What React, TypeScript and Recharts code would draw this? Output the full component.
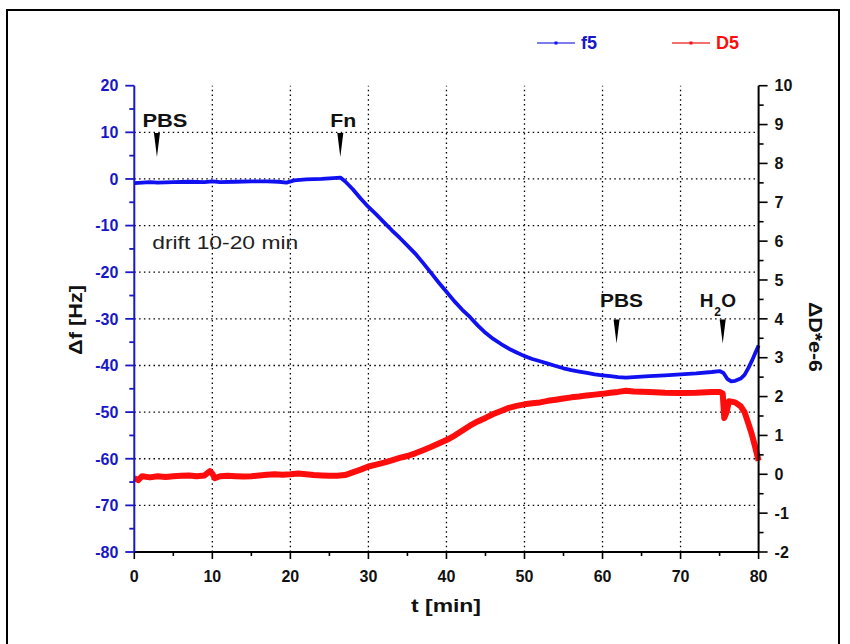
import { LineChart, Line, XAxis, YAxis, ReferenceLine, ReferenceDot, Legend } from 'recharts'

const FONT = '"Liberation Sans", Arial, Helvetica, sans-serif'
const BLUE = '#1010f0'
const BLUE_TEXT = '#1818c8'
const RED = '#ff0c0c'

// f5 frequency shift [Hz] vs time [min]
const f5Time = [
  0, 1, 2, 3, 5, 7, 9, 10, 11, 13, 15, 17, 18.5, 19.5, 20.5, 22, 24, 25.5, 26.4, 27, 28, 29, 30,
  31, 32, 33, 34, 35, 36, 37, 38, 39, 40, 41, 42, 43, 44, 45, 46, 47, 48, 49, 50, 51, 52, 53, 54,
  55, 56, 57, 58, 59, 60, 61, 62, 63, 64, 66, 68, 70, 72, 74, 75, 75.5, 76, 76.5, 77, 77.7, 78.2,
  78.7, 79.2, 79.6, 80,
]
const f5Shift = [
  -0.9, -0.8, -0.7, -0.8, -0.7, -0.6, -0.7, -0.5, -0.7, -0.6, -0.5, -0.5, -0.6, -0.8, -0.3, -0.1,
  0.0, 0.2, 0.3, -0.5, -2.2, -4.2, -6.0, -7.6, -9.3, -11.0, -12.6, -14.3, -16.0, -18.0, -20.1,
  -22.2, -24.2, -26.2, -28.0, -29.6, -31.4, -33.0, -34.3, -35.4, -36.4, -37.2, -38.0, -38.6, -39.1,
  -39.6, -40.1, -40.6, -41.0, -41.3, -41.6, -41.9, -42.1, -42.3, -42.5, -42.6, -42.5, -42.3, -42.1,
  -41.9, -41.7, -41.4, -41.2, -41.6, -42.9, -43.4, -43.3, -42.8, -42.0, -40.5, -38.8, -37.2, -35.7,
]

// D5 dissipation shift [1e-6] vs time [min]
const d5Time = [
  0, 0.5, 1, 2, 3, 4, 5, 6, 7, 8, 9, 9.7, 10, 10.3, 11, 12, 13, 14, 15, 16, 17, 18, 19, 20, 21, 22,
  23, 24, 25, 26, 27, 28, 29, 30, 31, 32, 33, 34, 35, 36, 37, 38, 39, 40, 41, 42, 43, 44, 45, 46, 47,
  48, 49, 50, 51, 52, 53, 54, 55, 56, 57, 58, 59, 60, 61, 62, 63, 64, 66, 68, 70, 72, 74, 75, 75.4,
  75.6, 75.9, 76.2, 77, 77.7, 78.2, 78.7, 79.1, 79.5, 80,
]
const d5Diss = [
  -0.1, -0.15, -0.05, -0.08, -0.05, -0.07, -0.05, -0.04, -0.03, -0.05, -0.03, 0.08, 0.02, -0.1,
  -0.05, -0.04, -0.05, -0.06, -0.05, -0.03, -0.01, 0.0, -0.01, 0.0, 0.02, 0.0, -0.02, -0.03, -0.04,
  -0.04, -0.02, 0.05, 0.12, 0.2, 0.25, 0.3, 0.36, 0.42, 0.47, 0.54, 0.62, 0.7, 0.79, 0.88, 0.99,
  1.12, 1.25, 1.36, 1.45, 1.55, 1.63, 1.71, 1.76, 1.8, 1.83, 1.85, 1.89, 1.92, 1.95, 1.98, 2.0,
  2.03, 2.05, 2.07, 2.1, 2.12, 2.15, 2.13, 2.12, 2.1, 2.09, 2.1, 2.12, 2.12, 2.08, 1.45, 1.6, 1.88,
  1.85, 1.75, 1.6, 1.3, 1.05, 0.75, 0.35,
]

const timeTicks = [0, 5, 10, 15, 20, 25, 30, 35, 40, 45, 50, 55, 60, 65, 70, 75, 80]
const freqTicks = [-80, -75, -70, -65, -60, -55, -50, -45, -40, -35, -30, -25, -20, -15, -10, -5, 0, 5, 10, 15, 20]
const dissTicks = [-2, -1.5, -1, -0.5, 0, 0.5, 1, 1.5, 2, 2.5, 3, 3.5, 4, 4.5, 5, 5.5, 6, 6.5, 7, 7.5, 8, 8.5, 9, 9.5, 10]
const timeGrid = [10, 20, 30, 40, 50, 60, 70]
const freqGrid = [-70, -60, -50, -40, -30, -20, -10, 0, 10]

// injection events: time and arrow tip height (Hz axis)
const events = [
  { name: 'PBS', t: 2.9, f: 4.7 },
  { name: 'Fn', t: 26.4, f: 4.7 },
  { name: 'PBS', t: 61.8, f: -35.3 },
  { name: 'H2O', t: 75.4, f: -35.3 },
]
const eventLabelPos = [
  { dx: 8, dy: -30, len: 45 },
  { dx: 3, dy: -30, len: 26 },
  { dx: 5, dy: -37, len: 43 },
  { dx: -3, dy: -37, len: 40 },
]

const f5Rows = f5Time.map((t, i) => ({ t, v: f5Shift[i] }))
const d5Rows = d5Time.map((t, i) => ({ t, v: d5Diss[i] }))

const X_TS = 7
const X_TM = 11
const Y_TS = 9
const Y_TM = 7

const XTick = (p: any) => {
  const v = p.payload.value
  const major = v % 10 === 0
  const ay = p.y - X_TS - X_TM
  return (
    <g>
      <line x1={p.x} x2={p.x} y1={ay} y2={ay + (major ? 7 : 4)} stroke="#000" strokeWidth={1.6} />
      {major && (
        <text x={p.x} y={p.y} dy="0.72em" textAnchor="middle" fontFamily={FONT} fontWeight="bold" fontSize={16} fill="#111">
          {v}
        </text>
      )}
    </g>
  )
}

const LeftTick = (p: any) => {
  const v = p.payload.value
  const major = v % 10 === 0
  const ax = p.x + Y_TS + Y_TM
  return (
    <g>
      <line x1={ax} x2={ax - (major ? 9 : 5)} y1={p.y} y2={p.y} stroke={BLUE_TEXT} strokeWidth={1.8} />
      {major && (
        <text x={p.x} y={p.y} dy="0.36em" textAnchor="end" fontFamily={FONT} fontWeight="bold" fontSize={16} fill={BLUE_TEXT}>
          {v}
        </text>
      )}
    </g>
  )
}

const RightTick = (p: any) => {
  const v = p.payload.value
  const major = Number.isInteger(v)
  const ax = p.x - Y_TS - Y_TM
  return (
    <g>
      <line x1={ax} x2={ax + (major ? 9 : 5)} y1={p.y} y2={p.y} stroke="#000" strokeWidth={1.6} />
      {major && (
        <text x={p.x} y={p.y} dy="0.36em" textAnchor="start" fontFamily={FONT} fontWeight="bold" fontSize={16} fill="#111">
          {v}
        </text>
      )}
    </g>
  )
}

const EventMark = ({ cx, cy, idx }: any) => {
  const e = events[idx]
  const lp = eventLabelPos[idx]
  const tx = cx + lp.dx
  const ty = cy + lp.dy
  return (
    <g>
      <polygon points={`${cx - 3},${cy - 24} ${cx + 3},${cy - 24} ${cx},${cy}`} fill="#000" />
      {e.name === 'H2O' ? (
        <g fontFamily={FONT} fontWeight="bold" fill="#111">
          <text x={cx - 23} y={ty} fontSize={19}>H</text>
          <text x={cx - 8.5} y={ty + 9} fontSize={12}>2</text>
          <text x={cx - 1.5} y={ty} fontSize={19}>O</text>
        </g>
      ) : (
        <text x={tx} y={ty} textAnchor="middle" fontFamily={FONT} fontWeight="bold" fontSize={19} fill="#111" textLength={lp.len} lengthAdjust="spacingAndGlyphs">
          {e.name}
        </text>
      )}
    </g>
  )
}

const LegendBox = () => (
  <svg width={240} height={26}>
    <line x1={7} x2={45} y1={13} y2={13} stroke="#5050e8" strokeWidth={1.5} />
    <rect x={24.5} y={11.5} width={3} height={3} fill={BLUE} />
    <text x={51} y={13} dy="0.36em" fontFamily={FONT} fontWeight="bold" fontSize={18} fill={BLUE_TEXT}>
      f5
    </text>
    <line x1={142} x2={180} y1={13} y2={13} stroke="#f04040" strokeWidth={1.5} />
    <rect x={159.5} y={11.5} width={3} height={3} fill={RED} />
    <text x={186} y={13} dy="0.36em" fontFamily={FONT} fontWeight="bold" fontSize={18} fill={RED}>
      D5
    </text>
  </svg>
)

export default function App() {
  return (
    <div style={{ position: 'absolute', left: 0, top: 0, width: 850, height: 644, background: '#fff', overflow: 'hidden' }}>
      <div
        style={{ position: 'absolute', left: 6, top: 9, width: 834, height: 660, border: '2px solid #000', boxSizing: 'border-box' }}
      />
      <LineChart width={850} height={644} margin={{ top: 85.7, right: 0, bottom: 0, left: 0 }} style={{ position: 'absolute', left: 0, top: 0 }}>
        <XAxis
          dataKey="t"
          type="number"
          domain={[0, 80]}
          ticks={timeTicks}
          interval={0}
          height={92}
          tickSize={X_TS}
          tickMargin={X_TM}
          tickLine={false}
          tick={XTick}
          axisLine={{ stroke: '#000', strokeWidth: 2 }}
          label={{
            content: () => (
              <text x={446} y={612} textAnchor="middle" fontFamily={FONT} fontWeight="bold" fontSize={19} fill="#111" textLength={70} lengthAdjust="spacingAndGlyphs">
                t [min]
              </text>
            ),
          }}
        />
        <YAxis
          yAxisId="left"
          orientation="left"
          type="number"
          domain={[-80, 20]}
          ticks={freqTicks}
          interval={0}
          width={134.3}
          tickSize={Y_TS}
          tickMargin={Y_TM}
          tickLine={false}
          tick={LeftTick}
          axisLine={{ stroke: BLUE_TEXT, strokeWidth: 2 }}
          label={{
            content: () => (
              <text transform="translate(75,320) rotate(-90)" dy="0.36em" textAnchor="middle" fontFamily={FONT} fontWeight="bold" fontSize={19} fill="#111" textLength={70} lengthAdjust="spacingAndGlyphs">
                Δf [Hz]
              </text>
            ),
          }}
        />
        <YAxis
          yAxisId="right"
          orientation="right"
          type="number"
          domain={[-2, 10]}
          ticks={dissTicks}
          interval={0}
          width={91.4}
          tickSize={Y_TS}
          tickMargin={Y_TM}
          tickLine={false}
          tick={RightTick}
          axisLine={{ stroke: '#000', strokeWidth: 2 }}
          label={{
            content: () => (
              <text transform="translate(816,337) rotate(90)" dy="0.36em" textAnchor="middle" fontFamily={FONT} fontWeight="bold" fontSize={19} fill="#111" textLength={70} lengthAdjust="spacingAndGlyphs">
                ΔD*e-6
              </text>
            ),
          }}
        />
        {timeGrid.map((v) => (
          <ReferenceLine key={'gx' + v} yAxisId="left" x={v} stroke="#000" strokeWidth={1.3} strokeDasharray="1.5 3.3" />
        ))}
        {freqGrid.map((v) => (
          <ReferenceLine key={'gy' + v} yAxisId="left" y={v} stroke="#000" strokeWidth={1.3} strokeDasharray="1.5 3.3" />
        ))}
        <Line
          yAxisId="right"
          data={d5Rows}
          dataKey="v"
          type="linear"
          stroke={RED}
          strokeWidth={6}
          strokeLinejoin="round"
          dot={false}
          isAnimationActive={false}
        />
        <Line
          yAxisId="left"
          data={f5Rows}
          dataKey="v"
          type="linear"
          stroke={BLUE}
          strokeWidth={3.8}
          strokeLinejoin="round"
          dot={false}
          isAnimationActive={false}
        />
        {events.map((e, i) => (
          <ReferenceDot
            key={'ev' + i}
            yAxisId="left"
            x={e.t}
            y={e.f}
            ifOverflow="visible"
            shape={(p: any) => <EventMark {...p} idx={i} />}
          />
        ))}
        <ReferenceDot
          yAxisId="left"
          x={2.3}
          y={-15}
          ifOverflow="visible"
          shape={(p: any) => (
            <text x={p.cx} y={p.cy} fontFamily={FONT} fontSize={18} fill="#222" textLength={146} lengthAdjust="spacingAndGlyphs">
              drift 10-20 min
            </text>
          )}
        />
        <Legend
          layout="horizontal"
          align="center"
          verticalAlign="middle"
          wrapperStyle={{ top: 30, left: 530, width: 240, height: 26 }}
          content={() => <LegendBox />}
        />
      </LineChart>
    </div>
  )
}
